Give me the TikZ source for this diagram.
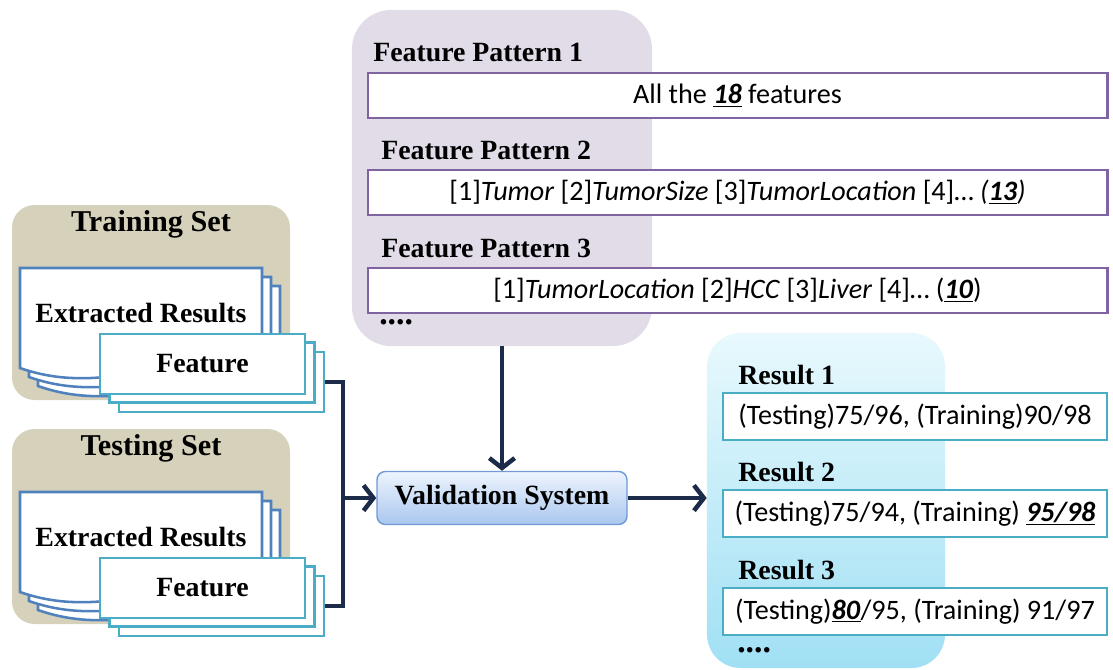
\documentclass[tikz,border=0pt]{standalone}
\usepackage{fontspec}
\setmainfont{Liberation Serif}
\newfontfamily\bodyfont{Carlito}
\usetikzlibrary{arrows.meta}
\definecolor{setbg}{HTML}{D6D1BA}
\definecolor{pagecol}{HTML}{4F81BD}
\definecolor{featcol}{HTML}{4BACC6}
\definecolor{pattbg}{HTML}{E1DCE8}
\definecolor{pattcol}{HTML}{8064A2}
\definecolor{restop}{HTML}{E8F9FD}
\definecolor{resbot}{HTML}{A0E0F4}
\definecolor{valtop}{HTML}{EEF4FD}
\definecolor{valbot}{HTML}{A9C7EF}
\definecolor{valcol}{HTML}{6F9AD6}
\definecolor{linkcol}{HTML}{1C2B4A}
\begin{document}
\begin{tikzpicture}[x=0.025cm,y=-0.025cm,
    settitle/.style={font=\fontsize{21.5}{24}\selectfont\bfseries, inner sep=0pt},
    head/.style={font=\fontsize{19.8}{22}\selectfont\bfseries, anchor=west, inner sep=0pt},
    dots/.style={font=\fontsize{24}{24}\selectfont\bfseries, anchor=west, inner sep=0pt},
    body/.style={font=\bodyfont\fontsize{20}{24}\selectfont},
    pagebox/.style={draw=pagecol, fill=white, line width=1.8pt},
    featbox/.style={draw=featcol, fill=white, line width=1.8pt,
      minimum width=5.125cm, minimum height=1.5cm, head, anchor=center},
    pattbox/.style={body, draw=pattcol, fill=white, line width=2pt,
      minimum width=18.475cm, minimum height=1.125cm, inner sep=0pt},
    resbox/.style={body, draw=featcol, fill=white, line width=2pt,
      minimum width=9.6cm, minimum height=1.175cm, inner sep=0pt},
    link/.style={draw=linkcol, line width=3.2pt},
    >={Straight Barb[length=7pt,width=18pt]}]
  \useasboundingbox (0,0) rectangle (1113,670);

  % training and testing sets
  \foreach \set/\title/\dy in {tr/Training Set/0, ts/Testing Set/224} {
    \begin{scope}[shift={(0,\dy)}]
      \fill[setbg, rounded corners=16pt] (12,205) rectangle (290,400);
      \node[settitle] (\set-title) at (151,224) {\title};
      \foreach \d in {18,9,0}
        \draw[pagebox, shift={(\d,\d)}] (20,268) -- (262,268) -- (262,362)
          .. controls (190,345) and (110,400) .. (20,368) -- cycle;
      \node[head, anchor=center] (\set-extr) at (141,313) {Extracted Results};
      \node[featbox] (\set-featC) at (221.5,382) {};
      \node[featbox] (\set-featB) at (212,372.5) {};
      \node[featbox] (\set-featA) at (202.5,364) {Feature};
    \end{scope}
  }

  % feature patterns
  \node[fill=pattbg, rounded corners=28pt, minimum width=7.5cm,
    minimum height=8.4cm] (patterns) at (502,178) {};
  \node[head] (ph1) at (373,52) {Feature Pattern 1};
  \node[pattbox] (patt1) at (737.5,95.5)
    {All the \underline{\textbf{\textit{18}}} features};
  \node[head] (ph2) at (381,150) {Feature Pattern 2};
  \node[pattbox] (patt2) at (737.5,192.5)
    {[1]\textit{Tumor} [2]\textit{TumorSize} [3]\textit{TumorLocation} [4]\dots{} \textit{(\underline{\textbf{13}})}};
  \node[head] (ph3) at (381,248) {Feature Pattern 3};
  \node[pattbox] (patt3) at (737.5,290.5)
    {[1]\textit{TumorLocation} [2]\textit{HCC} [3]\textit{Liver} [4]\dots{} (\underline{\textbf{\textit{10}}})};
  \node[dots] (pdots) at (379,322) {....};

  % validation
  \node[draw=valcol, line width=1pt, top color=valtop, bottom color=valbot,
    rounded corners=6pt, minimum width=6.25cm, minimum height=1.325cm,
    font=\fontsize{19.8}{22}\selectfont\bfseries] (valid) at (502,498) {Validation System};

  % results
  \node[top color=restop, bottom color=resbot, rounded corners=24pt,
    minimum width=5.95cm, minimum height=8.375cm] (results) at (826,500.5) {};
  \node[head] (rh1) at (738,375) {Result 1};
  \node[resbox] (res1) at (915,416.5) {(Testing)75/96, (Training)90/98};
  \node[head] (rh2) at (738,472) {Result 2};
  \node[resbox] (res2) at (915,513.5)
    {(Testing)75/94, (Training) \underline{\textbf{\textit{95/98}}}};
  \node[head] (rh3) at (738,570) {Result 3};
  \node[resbox] (res3) at (915,611.5)
    {(Testing)\underline{\textbf{\textit{80}}}/95, (Training) 91/97};
  \node[dots] (rdots) at (737,650) {....};

  % connectors
  \coordinate (join) at (343,498);
  \draw[link] (tr-featC.east) -| (join) |- (ts-featC.east);
  \draw[link,->] (join) -- (valid.west);
  \draw[link,->] (patterns.south) -- (valid.north);
  \draw[link,->] (valid.east) -- (valid.east -| results.west);
\end{tikzpicture}
\end{document}
